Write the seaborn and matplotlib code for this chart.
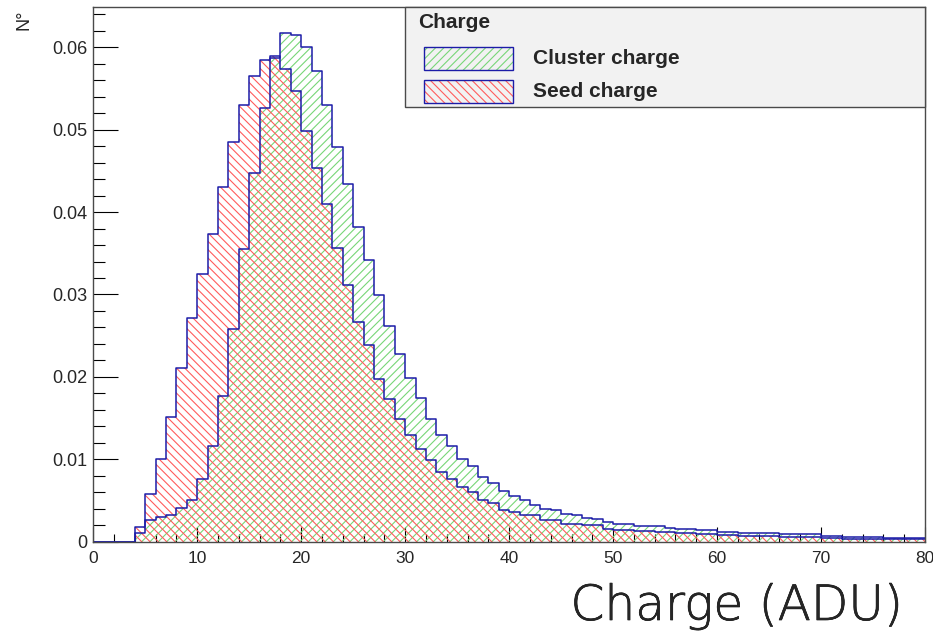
import numpy as np
import pandas as pd
import matplotlib
matplotlib.use("Agg")
import matplotlib.pyplot as plt
import matplotlib.patheffects as pe
import seaborn as sns
from matplotlib.patches import Rectangle
from matplotlib.ticker import FixedLocator, MultipleLocator

# ---- data: normalised charge spectra, 1 ADU bins starting at 0 ----
bin_low = list(range(0, 80))

cluster_charge = [
    0, 0, 0, 0, 0.0011, 0.0026, 0.0030, 0.0033, 0.0041, 0.0050,
    0.0076, 0.0116, 0.0177, 0.0258, 0.0355, 0.0447, 0.0526, 0.0587, 0.0617, 0.0615,
    0.0600, 0.0571, 0.0530, 0.0479, 0.0434, 0.0382, 0.0342, 0.0299, 0.0262, 0.0228,
    0.0199, 0.0174, 0.0149, 0.0130, 0.0116, 0.0100, 0.0092, 0.0079, 0.0071, 0.0062,
    0.0056, 0.0051, 0.0045, 0.0040, 0.0038, 0.0034, 0.0032, 0.0029, 0.0027, 0.0024,
    0.0022, 0.0021, 0.0019, 0.0019, 0.0019, 0.0017, 0.0015, 0.0015, 0.0014, 0.0014,
    0.0012, 0.0012, 0.0011, 0.00105, 0.00105, 0.00105, 0.00097, 0.00097, 0.00097, 0.00097,
    0.00073, 0.00073, 0.00061, 0.00061, 0.00061, 0.00061, 0.00049, 0.00045, 0.00045, 0.00045,
]

seed_charge = [
    0, 0, 0, 0, 0.0018, 0.0058, 0.0100, 0.0151, 0.0211, 0.0271,
    0.0325, 0.0374, 0.0430, 0.0485, 0.0530, 0.0565, 0.0585, 0.0589, 0.0574, 0.0547,
    0.0498, 0.0453, 0.0410, 0.0357, 0.0312, 0.0267, 0.0239, 0.0198, 0.0173, 0.0149,
    0.0129, 0.0112, 0.0099, 0.0084, 0.0076, 0.0066, 0.0060, 0.0051, 0.0047, 0.0039,
    0.0036, 0.0032, 0.0032, 0.0026, 0.0026, 0.0022, 0.0022, 0.0020, 0.0020, 0.0016,
    0.0014, 0.0014, 0.0013, 0.0013, 0.0012, 0.0012, 0.0010, 0.0010, 0.00097, 0.00097,
    0.00085, 0.00085, 0.00073, 0.00073, 0.00073, 0.00073, 0.00061, 0.00061, 0.00061, 0.00061,
    0.00049, 0.00049, 0.00036, 0.00036, 0.00032, 0.00032, 0.00032, 0.00032, 0.00032, 0.00032,
]

x_ticks = [0, 10, 20, 30, 40, 50, 60, 70, 80]
x_tick_labels = ["0", "10", "20", "30", "40", "50", "60", "70", "80"]
y_ticks = [0, 0.01, 0.02, 0.03, 0.04, 0.05, 0.06]
y_tick_labels = ["0", "0.01", "0.02", "0.03", "0.04", "0.05", "0.06"]

legend_title = "Charge"
series_names = ["Cluster charge", "Seed charge"]
x_title = "Charge (ADU)"
y_title = "N°"

# ---- styling ----
W, H = 933, 632
GREEN = "#78d678"
RED = "#ff5c5c"
BLUE = "#1c1ca8"
FRAME = "#4a4a4a"

sns.set_style("white")
plt.rcParams["font.family"] = ["Liberation Sans", "DejaVu Sans"]
plt.rcParams["hatch.linewidth"] = 0.8

fig = plt.figure(figsize=(W / 100, H / 100), dpi=100)
fig.patch.set_facecolor("white")

# axes frame in pixel units
ax_l, ax_r, ax_t, ax_b = 93.3, 925.0, 7.3, 541.7
ax = fig.add_axes([ax_l / W, 1 - ax_b / H, (ax_r - ax_l) / W, (ax_b - ax_t) / H])

df = pd.DataFrame({
    "charge": np.array(bin_low) + 0.5,
    "cluster": cluster_charge,
    "seed": seed_charge,
})
n_bins = len(bin_low)
bin_range = (bin_low[0], bin_low[-1] + 1)

# hatched fills
sns.histplot(data=df, x="charge", weights="cluster", bins=n_bins, binrange=bin_range,
             element="step", fill=True, color=GREEN, facecolor="none",
             edgecolor=GREEN, linewidth=0, hatch="////", ax=ax)
sns.histplot(data=df, x="charge", weights="seed", bins=n_bins, binrange=bin_range,
             element="step", fill=True, color=RED, facecolor="none",
             edgecolor=RED, linewidth=0, hatch="\\\\\\\\", ax=ax)
# outlines
sns.histplot(data=df, x="charge", weights="cluster", bins=n_bins, binrange=bin_range,
             element="step", fill=False, color=BLUE, linewidth=1.1, ax=ax)
sns.histplot(data=df, x="charge", weights="seed", bins=n_bins, binrange=bin_range,
             element="step", fill=False, color=BLUE, linewidth=1.1, ax=ax)

ax.set_xlim(0, 80)
ax.set_ylim(0, 0.06485)
ax.set_xlabel("")
ax.set_ylabel("")

ax.xaxis.set_major_locator(FixedLocator(x_ticks))
ax.set_xticklabels(x_tick_labels)
ax.xaxis.set_minor_locator(MultipleLocator(2))
ax.yaxis.set_major_locator(FixedLocator(y_ticks))
ax.set_yticklabels(y_tick_labels)
ax.yaxis.set_minor_locator(MultipleLocator(0.002))

ax.tick_params(axis="x", which="major", direction="in", length=10.5, width=0.8,
               pad=6.5, labelsize=12.5, color="black", bottom=True, top=False)
ax.tick_params(axis="x", which="minor", direction="in", length=5.5, width=0.8,
               color="black", bottom=True, top=False)
ax.tick_params(axis="y", which="major", direction="in", length=18, width=0.8,
               pad=4, labelsize=13, color="black", left=True, right=False)
ax.tick_params(axis="y", which="minor", direction="in", length=8.6, width=0.8,
               color="black", left=True, right=False)

for sp in ax.spines.values():
    sp.set_visible(True)
    sp.set_color(FRAME)
    sp.set_linewidth(1.0)


def fx(px):
    return px / W


def fy(py):
    return 1 - py / H


# legend box
fig.add_artist(Rectangle((fx(405), fy(107)), fx(925) - fx(405), fy(7.3) - fy(107),
                         transform=fig.transFigure, facecolor="#f2f2f2",
                         edgecolor=FRAME, linewidth=1.0, zorder=5))
fig.text(fx(418), fy(22), legend_title, fontsize=15, fontweight="bold",
         ha="left", va="center", zorder=6)

swatches = [(GREEN, "////", 47, 70), (RED, "\\\\\\\\", 80, 103)]
for name, (col, hatch, top, bot) in zip(series_names, swatches):
    fig.add_artist(Rectangle((fx(424), fy(bot)), fx(513) - fx(424), fy(top) - fy(bot),
                             transform=fig.transFigure, facecolor="none",
                             edgecolor=col, linewidth=0, hatch=hatch, zorder=6))
    fig.add_artist(Rectangle((fx(424), fy(bot)), fx(513) - fx(424), fy(top) - fy(bot),
                             transform=fig.transFigure, fill=False,
                             edgecolor=BLUE, linewidth=1.0, zorder=7))
    fig.text(fx(533), fy((top + bot) / 2), name, fontsize=15, fontweight="bold",
             ha="left", va="center", zorder=7)

# axis titles
fig.text(fx(15), fy(9), y_title, rotation=90, fontsize=13, ha="left", va="top")
fig.text(fx(903), fy(620), x_title, fontsize=35, family="DejaVu Sans",
         fontweight=200, ha="right", va="baseline",
         path_effects=[pe.withStroke(linewidth=0.45, foreground="black")])

fig.savefig("out.png", dpi=100)
